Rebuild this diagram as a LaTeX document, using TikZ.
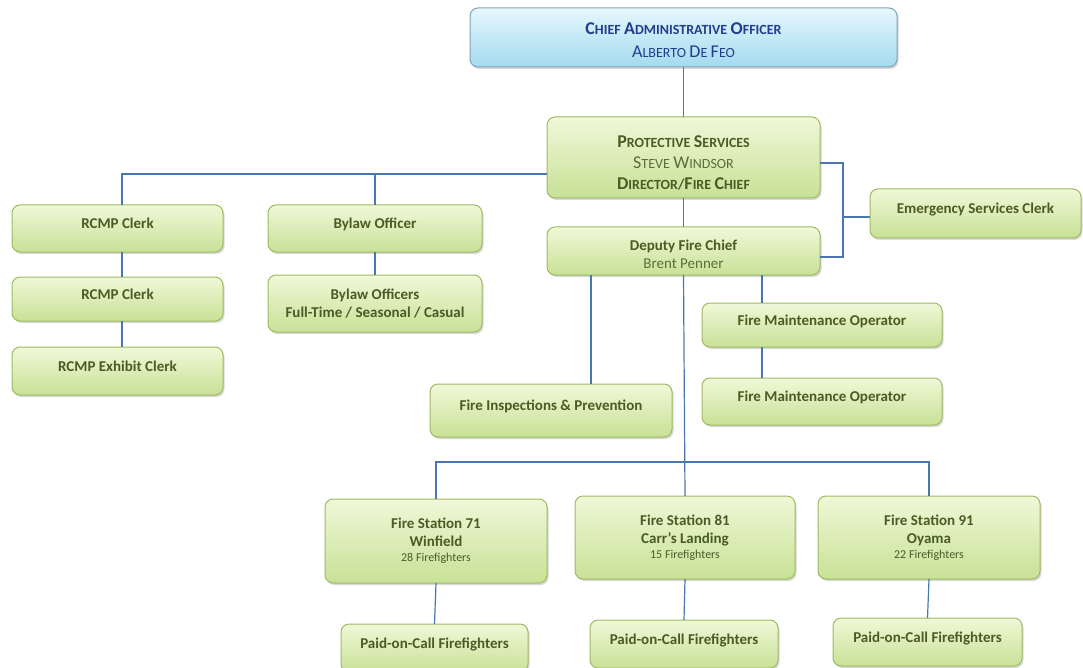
\documentclass[tikz,border=0pt]{standalone}
\usepackage{fontspec}
\setmainfont{Carlito}
\usetikzlibrary{shadows,calc}
\definecolor{txtg}{HTML}{4A5C26}
\definecolor{txtl}{HTML}{5C6E38}
\definecolor{boxb}{HTML}{9FBA62}
\definecolor{boxt}{HTML}{F0F8D8}
\definecolor{boxbot}{HTML}{C8E196}
\definecolor{caot}{HTML}{E6F7FC}
\definecolor{caob}{HTML}{A3DAEF}
\definecolor{caobd}{HTML}{7FA3B8}
\definecolor{caotx}{HTML}{233D8C}
\definecolor{lnc}{HTML}{4A77B0}
\newcommand{\SCb}[2]{{\fontsize{18}{20}\selectfont #1}{\fontsize{14}{20}\selectfont #2}}
\tikzset{
  box/.style={draw=boxb, line width=1pt, rounded corners=8pt,
    top color=boxt, bottom color=boxbot,
    drop shadow={opacity=0.3, shadow xshift=1.5pt, shadow yshift=-2pt},
    inner sep=0pt, outer sep=0pt, align=center, text=txtg,
    font=\fontsize{15}{18}\selectfont\bfseries},
  one/.style={box, text height=11pt, text depth=11pt},
  caobox/.style={box, draw=caobd, top color=caot, bottom color=caob, text=caotx},
  conn/.style={draw=lnc, line width=1.2pt}
}
\newcommand{\cnt}[1]{{\mdseries\fontsize{12}{14}\selectfont #1}}
\begin{document}
\begin{tikzpicture}[x=1pt,y=-1pt]
\useasboundingbox (0,0) rectangle (1083,668);
% coordinates for bus lines
\coordinate (jr) at (843,217);
\coordinate (fix) at (591,0);
\coordinate (fmx) at (762,0);
\coordinate (rx) at (122,0);
\coordinate (bus2) at (684,462);

% boxes
\node[caobox, minimum width=427pt, minimum height=59pt] (cao) at (683.5,37.5)
  {\rule{0pt}{18pt}\SCb{C}{HIEF} \SCb{A}{DMINISTRATIVE} \SCb{O}{FFICER}\\[5pt]
   \mdseries\SCb{A}{LBERTO} \SCb{D}{E} \SCb{F}{EO}};
\node[box, minimum width=273pt, minimum height=81pt] (ps) at (683.5,157.5)
  {\rule{0pt}{22pt}\SCb{P}{ROTECTIVE} \SCb{S}{ERVICES}\\[3pt]
   {\mdseries\color{txtl}\SCb{S}{TEVE} \SCb{W}{INDSOR}}\\[3pt]
   \SCb{D}{IRECTOR}/\SCb{F}{IRE} \SCb{C}{HIEF}};
\node[box, minimum width=273pt, minimum height=48pt] (dfc) at (683.5,251)
  {\rule{0pt}{17pt}Deputy Fire Chief\\{\mdseries\color{txtl}Brent Penner}};
\node[one, minimum width=211pt, minimum height=47pt] (r1) at (117.5,228.5) {RCMP Clerk};
\node[one, minimum width=211pt, minimum height=44pt] (r2) at (117.5,299) {RCMP Clerk};
\node[one, minimum width=211pt, minimum height=48pt] (rx1) at (117.5,371) {RCMP Exhibit Clerk};
\node[one, minimum width=214pt, minimum height=47pt] (by1) at (375,228.5) {Bylaw Officer};
\node[box, minimum width=214pt, minimum height=57pt] (by2) at (375,303.5)
  {Bylaw Officers\\Full-Time / Seasonal / Casual};
\node[one, minimum width=211pt, minimum height=49pt] (esc) at (975.5,213.5) {Emergency Services Clerk};
\node[one, minimum width=240pt, minimum height=44pt] (fm1) at (822,325) {Fire Maintenance Operator};
\node[one, minimum width=240pt, minimum height=47pt] (fm2) at (822,401.5) {Fire Maintenance Operator};
\node[one, minimum width=242pt, minimum height=53pt] (fi) at (551,410.5) {Fire Inspections \& Prevention};
\node[box, minimum width=222pt, minimum height=84pt] (fs71) at (436,541)
  {Fire Station 71\\Winfield\\[-3pt]\cnt{28 Firefighters}};
\node[box, minimum width=220pt, minimum height=83pt] (fs81) at (685,537.5)
  {Fire Station 81\\Carr’s Landing\\[-3pt]\cnt{15 Firefighters}};
\node[box, minimum width=222pt, minimum height=83pt] (fs91) at (929,537.5)
  {Fire Station 91\\Oyama\\[-3pt]\cnt{22 Firefighters}};
\node[one, minimum width=187pt, minimum height=48pt] (p1) at (434.5,648) {Paid-on-Call Firefighters};
\node[one, minimum width=188pt, minimum height=48pt] (p2) at (684,644) {Paid-on-Call Firefighters};
\node[one, minimum width=189pt, minimum height=48pt] (p3) at (927.5,642) {Paid-on-Call Firefighters};

% connectors
\draw[conn] (cao.south) -- (ps.north);
\draw[conn] ([yshift=-16.5pt]ps.west) -| (r1.north -| rx);
\draw[conn] (by1.north) |- ([yshift=-16.5pt]ps.west);
\draw[conn] (r1.south -| rx) -- (r2.north -| rx);
\draw[conn] (r2.south -| rx) -- (rx1.north -| rx);
\draw[conn] (by1.south) -- (by2.north);
\draw[conn] ([yshift=-5.5pt]ps.east) -| (jr) |- ([yshift=-6pt]dfc.east);
\draw[conn] (jr) -- (jr -| esc.west);
\draw[conn] (ps.south) -- (dfc.north);
\draw[conn] (dfc.south -| fix) -- (fi.north -| fix);
\draw[conn] (dfc.south -| fmx) -- (fm1.north -| fmx);
\draw[conn] (fm1.south -| fmx) -- (fm2.north -| fmx);
\draw[conn] (dfc.south) -- (fs81.north);
\draw[conn] (fs71.north) |- (bus2) -| (fs91.north);
\draw[conn] (fs71.south) -- (p1.north);
\draw[conn] (fs81.south) -- (p2.north);
\draw[conn] (fs91.south) -- (p3.north);
\end{tikzpicture}
\end{document}
